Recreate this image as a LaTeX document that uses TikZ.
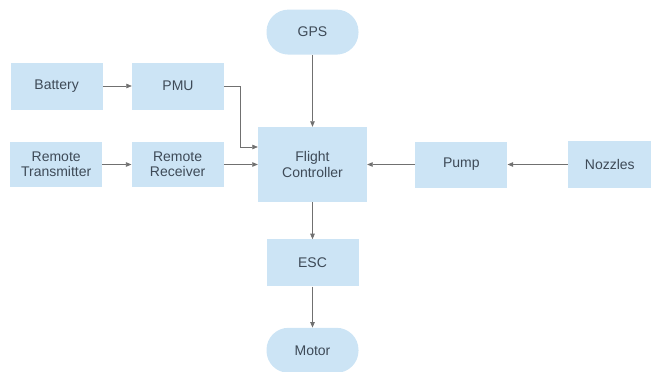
\documentclass[tikz,border=0pt]{standalone}
\usepackage{fontspec}
\setmainfont{Liberation Sans}
\usepackage{tikz}
\usetikzlibrary{positioning, arrows.meta}
\definecolor{boxFill}{HTML}{CCE4F5}
\definecolor{boxText}{HTML}{3E4A57}
\definecolor{lineGray}{HTML}{707070}

\begin{document}
\begin{tikzpicture}[
        x=1pt, y=1pt,
        font=\fontsize{14}{15.5}\selectfont,
        % Estilos de los bloques
        block/.style={
            rectangle,
            fill=boxFill,
            text=boxText,
            minimum width=92pt,
            minimum height=47pt,
            align=center,
            inner sep=2pt
        },
        pill/.style={
            block,
            rounded corners=22pt,
            minimum height=45pt
        },
        % Estilo de las flechas
        arrow/.style={-{Triangle[length=5.5pt, width=4.5pt]}, line width=0.7pt, color=lineGray}
    ]

    \useasboundingbox (0,0) rectangle (651,-372);

    % -- Bloque central --
    \node[block, minimum width=109pt, minimum height=75pt] (fc) at (312.5,-164.5) {Flight\\Controller};

    % -- Columna central --
    \node[pill, above=72pt of fc] (gps) {GPS};
    \node[block, below=37pt of fc] (esc) {ESC};
    \node[pill, below=41pt of esc] (motor) {Motor};

    % -- Lado izquierdo --
    \node[block, left=34pt of fc, minimum height=45pt] (rr) {Remote\\Receiver};
    \node[block, left=29pt of rr, minimum height=45pt] (rt) {Remote\\Transmitter};
    \node[block] (pmu) at (178,-86) {PMU};
    \node[block, left=29pt of pmu] (bat) {Battery};

    % -- Lado derecho --
    \node[block, right=48pt of fc, minimum height=46pt] (pump) {Pump};
    \node[block, right=60pt of pump, minimum width=84pt] (noz) {Nozzles};

    % -- Conexiones --
    \draw[arrow] (bat) -- (pmu);
    \draw[arrow] (pmu.east) -- ++(16,0) |- ([yshift=17.5pt]fc.west);
    \draw[arrow] (rt) -- (rr);
    \draw[arrow] (rr) -- (fc);
    \draw[arrow] (gps) -- (fc);
    \draw[arrow] (fc) -- (esc);
    \draw[arrow] (esc) -- (motor);
    \draw[arrow] (noz) -- (pump);
    \draw[arrow] (pump) -- (fc);

\end{tikzpicture}
\end{document}
